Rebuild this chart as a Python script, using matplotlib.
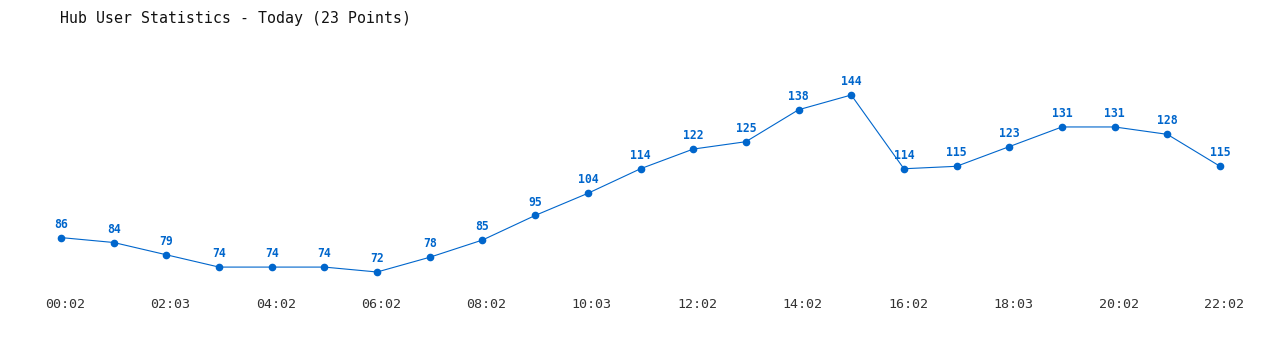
import matplotlib
matplotlib.use("Agg")
import matplotlib.pyplot as plt
import matplotlib.transforms as mtransforms

# hub users per sample, today
times = ["00:02", "", "02:03", "", "04:02", "", "06:02", "", "08:02", "", "10:03", "",
         "12:02", "", "14:02", "", "16:02", "", "18:03", "", "20:02", "", "22:02"]
users = [86, 84, 79, 74, 74, 74, 72, 78, 85, 95, 104, 114, 122, 125, 138, 144,
         114, 115, 123, 131, 131, 128, 115]

blue = "#0066cc"
mono = "DejaVu Sans Mono"

fig = plt.figure(figsize=(12.8, 3.5), dpi=100)
W, H = 1280, 350
# axes box in pixels: x 61..1220, y 95..272
ax = fig.add_axes([61 / W, 1 - 272 / H, (1220 - 61) / W, (272 - 95) / H])

xs = list(range(len(users)))
ax.plot(xs, users, color=blue, lw=0.8, marker="o", ms=4.5, clip_on=False)
for x, v in zip(xs, users):
    ax.annotate(str(v), (x, v), xytext=(0, 5), textcoords="offset points",
                ha="center", va="bottom", color=blue, fontsize=8.3,
                fontweight="bold", family=mono)

ax.set_xlim(0, len(users) - 1)
ax.set_ylim(min(users), max(users))
tick_pos = [i for i, t in enumerate(times) if t]
ax.set_xticks(tick_pos)
ax.set_xticklabels([times[i] for i in tick_pos], family=mono, fontsize=9.6, color="#333333")
ax.tick_params(axis="x", length=0, pad=19)
# labels sit a few pixels right of the points in the original
shift = mtransforms.ScaledTranslation(4 / 100, 0, fig.dpi_scale_trans)
for lab in ax.get_xticklabels():
    lab.set_transform(lab.get_transform() + shift)
ax.set_yticks([])
for s in ax.spines.values():
    s.set_visible(False)

fig.text(60 / W, 1 - 18 / H, "Hub User Statistics - Today (23 Points)", family=mono,
         fontsize=10.7, va="center", ha="left", color="#111111")

fig.savefig("out.png", dpi=100)
